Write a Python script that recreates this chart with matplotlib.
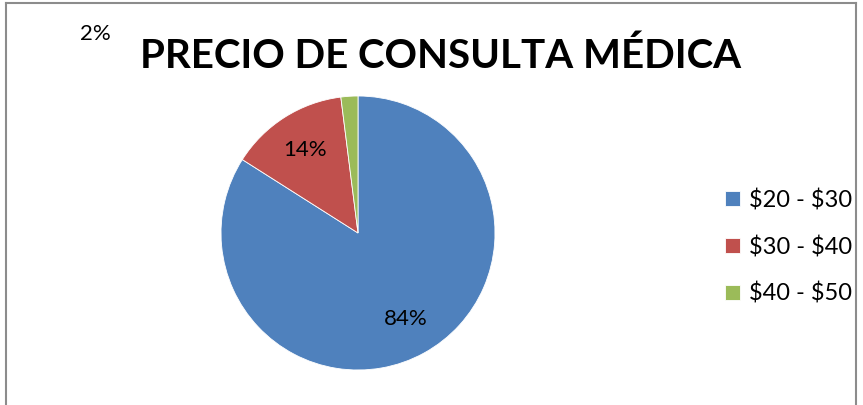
import matplotlib.pyplot as plt
from matplotlib.lines import Line2D

# datos del grafico
rangos = [r"\$20 - \$30", r"\$30 - \$40", r"\$40 - \$50"]
porcentajes = [84, 14, 2]
colores = ["#4F81BD", "#C0504D", "#9BBB59"]

plt.rcParams['font.family'] = ['Lato', 'DejaVu Sans']

fig = plt.figure(figsize=(8.63, 4.05), dpi=100)

# eje cuadrado para el pastel (centro ~ (358,233) px, radio ~137 px)
ax = fig.add_axes([221 / 863, 35 / 405, 274 / 863, 274 / 405])
wedges, textos, autotextos = ax.pie(
    porcentajes, colors=colores, startangle=90, counterclock=False,
    autopct='%1.0f%%', pctdistance=0.72,
    wedgeprops=dict(edgecolor='white', linewidth=0.6),
    textprops=dict(fontsize=16, color='black'))
ax.set_xlim(-1, 1)
ax.set_ylim(-1, 1)

# la etiqueta del 2% fue movida a la esquina superior izquierda
autotextos[2].set_position((-1.92, 1.45))

fig.text(0.51, 0.86, "PRECIO DE CONSULTA MÉDICA", ha='center', va='center',
         fontsize=29, fontweight='bold')

fig.legend(wedges, rangos, loc='center left', bbox_to_anchor=(0.816, 0.39),
           frameon=False, fontsize=17, handlelength=0.6, handleheight=0.6,
           handletextpad=0.4, labelspacing=1.05)

# borde del area del grafico
gris = '#8c8c8c'
fig.add_artist(Line2D([6 / 863, 856 / 863], [1 - 3 / 405, 1 - 3 / 405], color=gris, lw=1.5))
fig.add_artist(Line2D([6 / 863, 6 / 863], [0, 1 - 3 / 405], color=gris, lw=1.5))
fig.add_artist(Line2D([856 / 863, 856 / 863], [0, 1 - 3 / 405], color=gris, lw=1.5))

fig.savefig('out.png', dpi=100)
